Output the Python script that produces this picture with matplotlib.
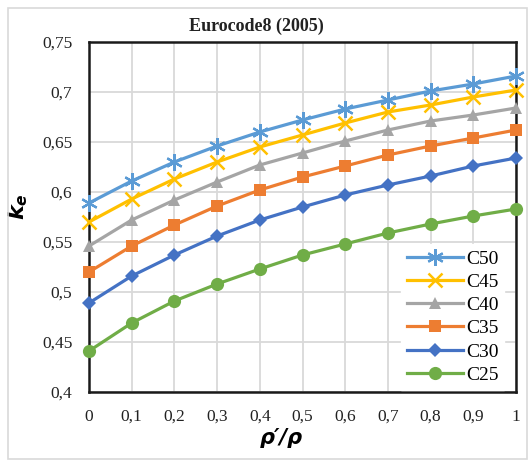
import matplotlib
matplotlib.use("Agg")
import matplotlib.pyplot as plt
from matplotlib.patches import Rectangle

x = [0, 0.1, 0.2, 0.3, 0.4, 0.5, 0.6, 0.7, 0.8, 0.9, 1.0]
xtick_labels = ["0", "0,1", "0,2", "0,3", "0,4", "0,5", "0,6", "0,7", "0,8", "0,9", "1"]
yticks = [0.4, 0.45, 0.5, 0.55, 0.6, 0.65, 0.7, 0.75]
ytick_labels = ["0,4", "0,45", "0,5", "0,55", "0,6", "0,65", "0,7", "0,75"]

c50 = [0.589, 0.611, 0.630, 0.646, 0.660, 0.672, 0.683, 0.692, 0.701, 0.708, 0.716]
c45 = [0.570, 0.593, 0.613, 0.630, 0.645, 0.657, 0.669, 0.680, 0.687, 0.695, 0.702]
c40 = [0.546, 0.572, 0.592, 0.610, 0.627, 0.639, 0.651, 0.662, 0.671, 0.677, 0.684]
c35 = [0.520, 0.546, 0.567, 0.586, 0.602, 0.615, 0.626, 0.637, 0.646, 0.654, 0.662]
c30 = [0.489, 0.516, 0.537, 0.556, 0.572, 0.585, 0.597, 0.607, 0.616, 0.626, 0.634]
c25 = [0.441, 0.469, 0.491, 0.508, 0.523, 0.537, 0.548, 0.559, 0.568, 0.576, 0.583]

series_names = ["C50", "C45", "C40", "C35", "C30", "C25"]

plt.rcParams['mathtext.fontset'] = 'custom'
plt.rcParams['mathtext.it'] = 'DejaVu Sans:italic:bold'
plt.rcParams['mathtext.rm'] = 'DejaVu Sans:bold'

fig = plt.figure(figsize=(5.30, 4.61), dpi=100)
ax = fig.add_axes([89/530, 1-392/461, (516-89)/530, (392-42)/461])

# outer chart border
fig.patches.append(Rectangle((8/530, 2/461), 519/530, 451/461, transform=fig.transFigure,
                             fill=False, edgecolor='#D9D9D9', linewidth=1.2))

styles = [
    dict(color='#5B9BD5', marker=(6, 2, 0), ms=12, mew=1.6),
    dict(color='#FFC000', marker='x', ms=10, mew=1.8),
    dict(color='#A5A5A5', marker='^', ms=9, mew=0),
    dict(color='#ED7D31', marker='s', ms=8.5, mew=0),
    dict(color='#4472C4', marker='D', ms=7.5, mew=0),
    dict(color='#70AD47', marker='o', ms=9.5, mew=0),
]
data = [c50, c45, c40, c35, c30, c25]
for name, ys, st in zip(series_names, data, styles):
    ax.plot(x, ys, color=st['color'], lw=2.3, marker=st['marker'], markersize=st['ms'],
            markeredgewidth=st['mew'], markerfacecolor=st['color'],
            markeredgecolor=st['color'], label=name, clip_on=False, zorder=3)

ax.set_xlim(0, 1)
ax.set_ylim(0.4, 0.75)
ax.set_xticks(x)
ax.set_xticklabels(xtick_labels)
ax.set_yticks(yticks)
ax.set_yticklabels(ytick_labels)
ax.tick_params(length=0, labelsize=12.5, pad=12)
ax.tick_params(axis='x', pad=12)
for lab in ax.get_xticklabels() + ax.get_yticklabels():
    lab.set_fontfamily('Liberation Serif')
    lab.set_color('#222222')
ax.grid(True, color='#D9D9D9', lw=1.3)
ax.set_axisbelow(True)
for s in ax.spines.values():
    s.set_linewidth(1.8)
    s.set_color('#1a1a1a')

ax.set_xlabel("ρ′/ρ", fontsize=15, fontstyle='italic', fontweight='bold',
              family='DejaVu Sans')
ax.xaxis.set_label_coords((281-89)/427, (392-428)/350)
ax.set_ylabel(r"$k_e$", fontsize=16)
ax.yaxis.set_label_coords((30-89)/427, (392-207)/350)
fig.text(256/530, 1-26/461, "Eurocode8 (2005)", ha='center', va='center',
         fontsize=13, fontweight='bold', family='Liberation Serif', color='#222222')

leg = ax.legend(loc='lower right', bbox_to_anchor=(0.995, -0.021), frameon=True,
                fancybox=False, edgecolor='white', framealpha=1,
                prop={'family': 'Liberation Serif', 'size': 14},
                handlelength=2.9, handletextpad=0.15, labelspacing=0.29,
                borderpad=0.3)
leg.set_zorder(5)

fig.savefig("out.png", dpi=100)
